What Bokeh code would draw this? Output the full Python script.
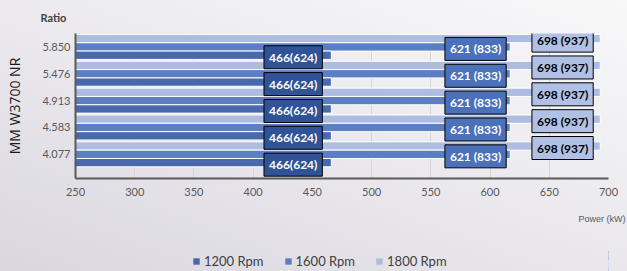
from bokeh.plotting import figure
from bokeh.layouts import column
from bokeh.models import (ColumnDataSource, Range1d, FixedTicker,
                          Legend, LegendItem, Title)
from bokeh.core.properties import value
from bokeh.embed import file_html
from bokeh.resources import INLINE

# ---- data ----
ratios = ["5.850", "5.476", "4.913", "4.583", "4.077"]
rpm_1200 = [466, 466, 466, 466, 466]
rpm_1600 = [617, 617, 617, 617, 617]
rpm_1800 = [693, 693, 693, 693, 693]
labels_1200 = ["466(624)"] * 5
labels_1600 = ["621 (833)"] * 5
labels_1800 = ["698 (937)"] * 5
series_names = ["1200 Rpm", "1600 Rpm", "1800 Rpm"]
x_ticks = [250, 300, 350, 400, 450, 500, 550, 600, 650, 700]

# ---- styling ----
BG_CSS = "linear-gradient(20deg, #d9d6df 0%, #e9e7ec 45%, #f8f8f9 100%)"
C1200 = "#4a69ad"
C1600 = "#5b7fc2"
C1800 = "#adbce0"
BOX1200 = "#2f5396"
BOX1600 = "#4a71b9"
BOX1800 = "#b1c1e6"
FONT = "Lato"
BAR_H = 0.31

n = len(ratios)
ypos = [n - 1 - i for i in range(n)]

src = ColumnDataSource(dict(
    y=ypos,
    y1800=[v + BAR_H for v in ypos],
    y1600=list(ypos),
    y1200=[v - BAR_H for v in ypos],
    r1200=rpm_1200, r1600=rpm_1600, r1800=rpm_1800,
    l1200=labels_1200, l1600=labels_1600, l1800=labels_1800,
))

p = figure(width=627, height=251, frame_width=533, frame_height=145,
           x_range=Range1d(250, 700), y_range=Range1d(-0.9, 4.5),
           output_backend="svg", toolbar_location=None,
           min_border_left=75, min_border_right=19,
           min_border_top=33, min_border_bottom=73,
           background_fill_alpha=0, border_fill_alpha=0)
p.outline_line_color = None

p.hbar(y="y1800", left=250, right="r1800", height=BAR_H, source=src,
       fill_color=C1800, line_color="white", line_width=1)
p.hbar(y="y1600", left=250, right="r1600", height=BAR_H, source=src,
       fill_color=C1600, line_color="white", line_width=1)
p.hbar(y="y1200", left=250, right="r1200", height=BAR_H, source=src,
       fill_color=C1200, line_color="white", line_width=1)

common = dict(source=src, text_align="right", text_baseline="middle",
              text_font=value(FONT), text_font_style="bold", text_font_size="12px",
              border_line_color="black", border_line_width=1,
              padding=dict(left=5, right=5, top=4, bottom=4),
              y_offset=2)
p.text(x="r1200", y="y1200", text="l1200", x_offset=-9,
       text_color="white", background_fill_color=BOX1200, **common)
p.text(x="r1600", y="y1600", text="l1600", x_offset=-4,
       text_color="white", background_fill_color=BOX1600, **common)
p.text(x="r1800", y="y1800", text="l1800", x_offset=-7,
       text_color="black", background_fill_color=BOX1800, **common)

# axes
p.xaxis.ticker = FixedTicker(ticks=x_ticks)
p.yaxis.ticker = FixedTicker(ticks=ypos)
p.yaxis.major_label_overrides = {v: r for v, r in zip(ypos, ratios)}
for ax in (p.xaxis[0], p.yaxis[0]):
    ax.major_tick_line_color = None
    ax.minor_tick_line_color = None
    ax.major_tick_out = 0
    ax.major_tick_in = 0
    ax.minor_tick_out = 0
    ax.axis_line_color = "#595959"
    ax.axis_line_width = 2
    ax.major_label_text_font = FONT
    ax.major_label_text_font_size = "11px"
    ax.major_label_text_color = "#595959"
p.xaxis.major_label_standoff = 9
p.yaxis.major_label_standoff = 5
p.yaxis.axis_label = "MM W3700 NR"
p.yaxis.axis_label_text_font = "Open Sans"
p.yaxis.axis_label_text_font_style = "normal"
p.yaxis.axis_label_text_font_size = "14px"
p.yaxis.axis_label_text_color = "#1a1a1a"
p.yaxis.axis_label_standoff = 15

p.xgrid.grid_line_color = "#d6d6d6"
p.xgrid.ticker = FixedTicker(ticks=x_ticks)
p.ygrid.grid_line_color = None

p.title.text = "Ratio"
p.title.align = "left"
p.title.vertical_align = "top"
p.title.standoff = 16
p.title.offset = -35
p.title.text_font = FONT
p.title.text_font_size = "11px"
p.title.text_font_style = "bold"
p.title.text_color = "#404040"

p.add_layout(Title(text="Power (kW)", align="right", vertical_align="top",
                   offset=-17, standoff=31,
                   text_font="Liberation Sans", text_font_size="9px",
                   text_font_style="normal", text_color="#595959"), "below")

# ---- legend strip (frame is aligned with the chart frame by the column) ----
q = figure(width=627, height=20, x_range=Range1d(0, 1), y_range=Range1d(0, 1),
           output_backend="svg", toolbar_location=None,
           x_axis_type=None, y_axis_type=None, min_border=0,
           background_fill_alpha=0, border_fill_alpha=0)
q.outline_line_color = None
q.xgrid.visible = False
q.ygrid.visible = False
# proxies for the legend swatches: same data, outside this strip's view
k12 = q.hbar(y="y1200", left=250, right="r1200", height=BAR_H, source=src,
             fill_color=C1200, line_color=None)
k16 = q.hbar(y="y1600", left=250, right="r1600", height=BAR_H, source=src,
             fill_color=C1600, line_color=None)
k18 = q.hbar(y="y1800", left=250, right="r1800", height=BAR_H, source=src,
             fill_color=C1800, line_color=None)
legend = Legend(items=[LegendItem(label=series_names[0], renderers=[k12]),
                       LegendItem(label=series_names[1], renderers=[k16]),
                       LegendItem(label=series_names[2], renderers=[k18])],
                orientation="horizontal", location=(117, 2),
                glyph_width=8, glyph_height=8, label_standoff=4, spacing=20,
                label_height=16, padding=0, margin=0,
                label_text_font=FONT, label_text_font_size="13px",
                label_text_color="#404040",
                background_fill_alpha=0, border_line_color=None)
q.add_layout(legend, "center")

layout = column(p, q, spacing=0, styles={"background": BG_CSS})
open("out.html", "w").write(file_html(layout, INLINE))
